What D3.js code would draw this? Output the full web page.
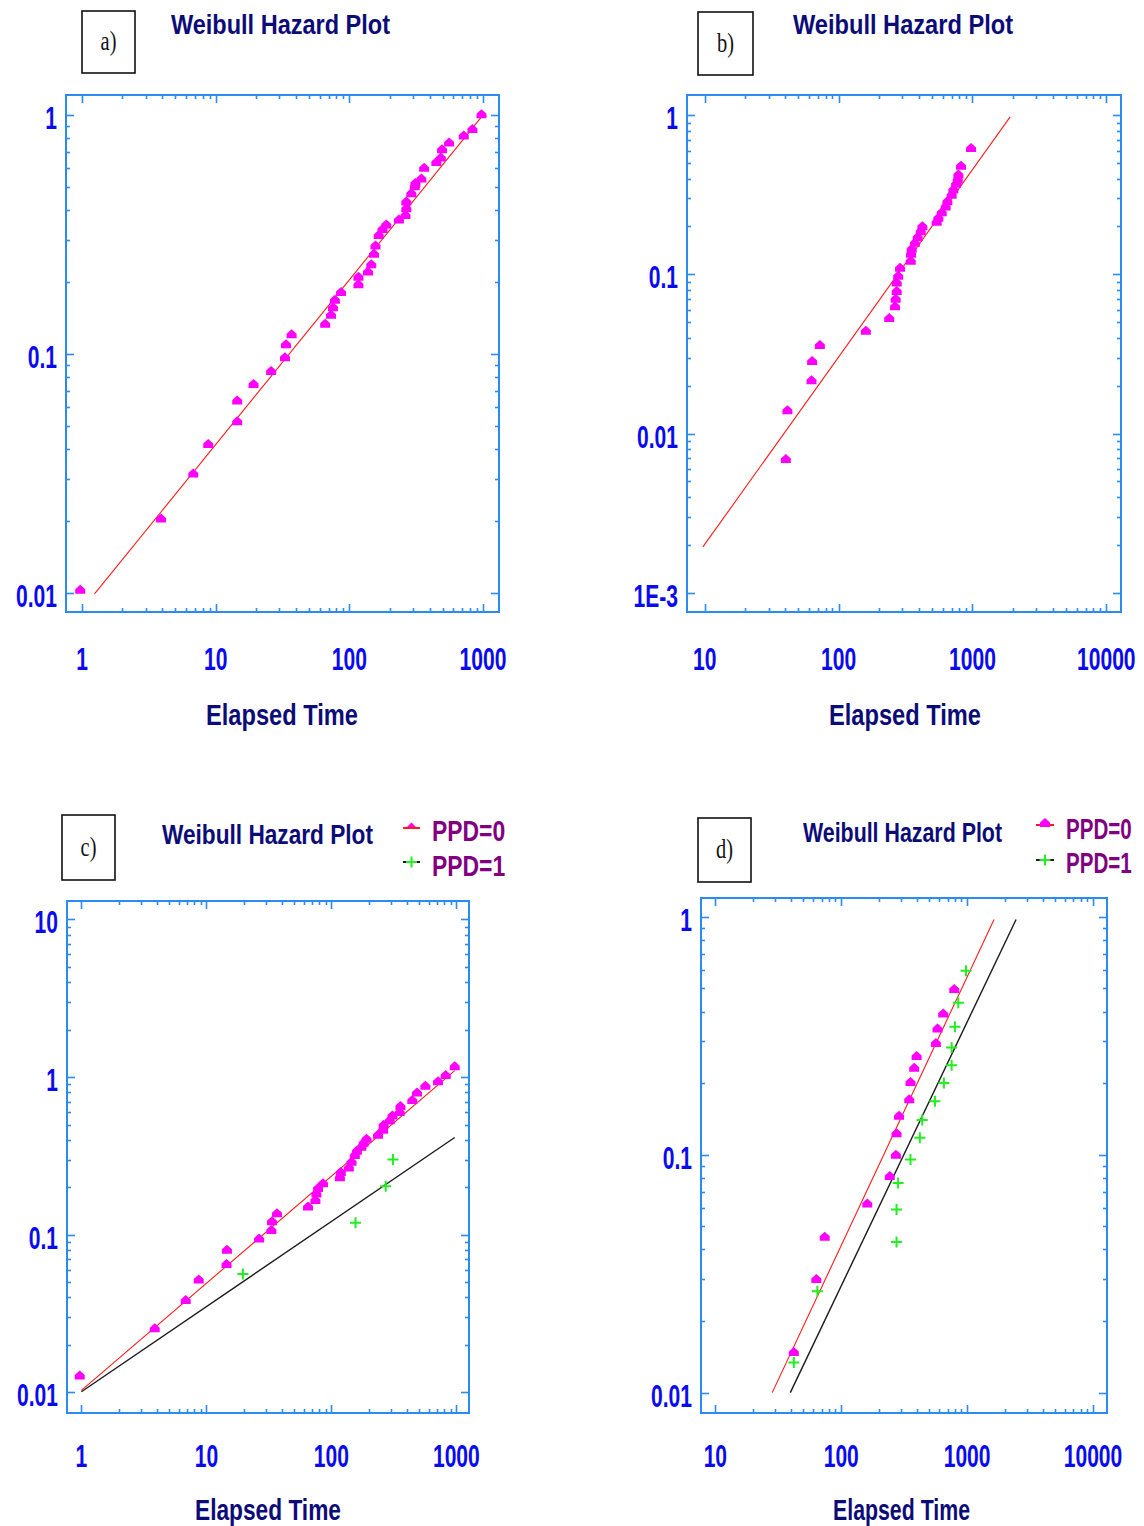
<!DOCTYPE html>
<html><head><meta charset="utf-8">
<script src="https://cdn.jsdelivr.net/npm/d3@7"></script>
<style>html,body{margin:0;padding:0;background:#fff;}</style>
</head><body>
<svg id="chart" width="1144" height="1526"></svg>
<script>
// ---------------- DATA ----------------
// Panel a
const aTime   = [0.97,3.9,6.8,8.8,14.5,14.5,19.2,26,33,33.6,37,66,73,75.5,78,86.7,117,117,138,146,153,157,166,177,189,235,263,267,267,291,309,312,346,363,448,484,494,558,718,834,975];
const aHazard = [0.0103,0.0205,0.0316,0.042,0.0524,0.064,0.075,0.085,0.097,0.11,0.121,0.134,0.146,0.157,0.169,0.182,0.196,0.211,0.222,0.238,0.263,0.285,0.315,0.334,0.349,0.366,0.382,0.408,0.436,0.472,0.504,0.521,0.543,0.603,0.638,0.665,0.721,0.77,0.822,0.877,1.01];
const aFitTime = [1.24, 975];
const aFitHazard = [0.0099, 0.984];

// Panel b
const bTime   = [40.4,41.5,62.8,63.5,72.5,160,239,264,267,272,272,279,288,346,348,352,372,390,411,423,541,557,590,631,650,700,721,755,777,786,822,977];
const bHazard = [0.00693,0.014,0.0216,0.0286,0.036,0.0442,0.0532,0.063,0.0703,0.0787,0.089,0.098,0.11,0.122,0.135,0.145,0.158,0.172,0.187,0.201,0.214,0.227,0.246,0.267,0.288,0.317,0.341,0.371,0.395,0.425,0.481,0.622];
const bFitTime = [9.7, 1914];
const bFitHazard = [0.00194, 0.976];

// Panel c
const cTime0   = [0.97,3.86,6.83,8.68,14.5,14.6,26.4,33.1,33.5,36.7,65,74.5,75.9,78.2,85.7,117,119,138,145,154,160,174,181,191,236,259,262,293,308,352,357,444,484,565,713,822,970];
const cHazard0 = [0.0128,0.0255,0.0386,0.052,0.0653,0.0803,0.0946,0.107,0.122,0.137,0.151,0.166,0.183,0.198,0.212,0.232,0.25,0.267,0.29,0.32,0.341,0.362,0.384,0.406,0.431,0.464,0.499,0.532,0.57,0.6,0.655,0.716,0.798,0.881,0.94,1.03,1.17];
const cTime1   = [19.6,156,272,311];
const cHazard1 = [0.0563,0.119,0.203,0.3];
const cFit0Time = [1, 970],  cFit0Hazard = [0.0103, 1.1];
const cFit1Time = [1, 970],  cFit1Hazard = [0.0101, 0.414];

// Panel d
const dTime0   = [42,63.4,73.9,161,243,272,275,288,347,355,380,397,565,582,646,790];
const dHazard0 = [0.0148,0.03,0.0452,0.0624,0.0813,0.1,0.123,0.146,0.171,0.202,0.232,0.26,0.295,0.339,0.392,0.497];
const dTime1   = [42,64.6,275,275,283,355,421,440,555,654,753,753,800,851,980];
const dHazard1 = [0.0134,0.0267,0.043,0.0588,0.0761,0.0955,0.118,0.14,0.168,0.2,0.238,0.282,0.345,0.435,0.593];
const dFit0Time = [28.3, 1637], dFit0Hazard = [0.01, 0.975];
const dFit1Time = [39.4, 2449], dFit1Hazard = [0.01, 0.975];

// Tick labels
const xTicksA = ["1","10","100","1000"];
const xTicksB = ["10","100","1000","10000"];
const xTicksC = ["1","10","100","1000"];
const xTicksD = ["10","100","1000","10000"];
const yTicksA = ["0.01","0.1","1"];
const yTicksB = ["1E-3","0.01","0.1","1"];
const yTicksC = ["0.01","0.1","1","10"];
const yTicksD = ["0.01","0.1","1"];
const yTickValuesA = [0.01,0.1,1];
const yTickValuesB = [0.001,0.01,0.1,1];
const yTickValuesC = [0.01,0.1,1,10];
const yTickValuesD = [0.01,0.1,1];
const xTickValuesA = [1,10,100,1000];
const xTickValuesB = [10,100,1000,10000];

const titleText = "Weibull Hazard Plot";
const xAxisTitle = "Elapsed Time";
const legendLabels = ["PPD=0","PPD=1"];
const panelLetters = ["a)","b)","c)","d)"];

// ---------------- STYLE / LAYOUT ----------------
const AXIS = "#2a8cf2", TICKLAB = "#0a0af0", NAVY = "#0c0c78", PURPLE = "#800080";
const MAG = "#ff00ff", GREEN = "#22ee22", RED = "#ff1a1a", BLACK = "#1a1a1a";
const svg = d3.select("#chart");

const panels = [
  {box:[66,95,499,612], xd:[0.759,1318], yd:[0.00832,1.216], xt:xTickValuesA, xl:xTicksA, yt:yTickValuesA, yl:yTicksA,
   xLabY:670, title:[171,34,219], xtitle:[206,725,152], lbox:[82,11,53,62], letter:panelLetters[0],
   series:[{t:aTime,h:aHazard,m:"tri"}], fits:[{t:aFitTime,h:aFitHazard,c:RED,w:1.1}]},
  {box:[687,95,1121,612], xd:[7.38,12880], yd:[0.000757,1.34], xt:xTickValuesB, xl:xTicksB, yt:yTickValuesB, yl:yTicksB,
   xLabY:670, title:[793,34,220], xtitle:[829,725,152], lbox:[698,12,55,63], letter:panelLetters[1],
   series:[{t:bTime,h:bHazard,m:"tri"}], fits:[{t:bFitTime,h:bFitHazard,c:RED,w:1.1}]},
  {box:[67,901,469,1413], xd:[0.767,1262], yd:[0.0074,13.1], xt:xTickValuesA, xl:xTicksC, yt:yTickValuesC, yl:yTicksC,
   xLabY:1467, title:[162,844,211], xtitle:[195,1520,146], lbox:[62,815,53,65], letter:panelLetters[2],
   legend:{lx:[403,420], tx:432, ty:[841,876], sx:0.79, my:[826,862]},
   series:[{t:cTime0,h:cHazard0,m:"tri"},{t:cTime1,h:cHazard1,m:"plus"}],
   fits:[{t:cFit1Time,h:cFit1Hazard,c:BLACK,w:1.4},{t:cFit0Time,h:cFit0Hazard,c:RED,w:1.1}]},
  {box:[701,898,1107,1413], xd:[7.69,12920], yd:[0.00821,1.2], xt:xTickValuesB, xl:xTicksD, yt:yTickValuesD, yl:yTicksD,
   xLabY:1467, title:[803,842,199], xtitle:[833,1520,137], lbox:[698,818,53,64], letter:panelLetters[3],
   legend:{lx:[1036,1054], tx:1066, ty:[839,873], sx:0.71, my:[823,860], house:true},
   series:[{t:dTime0,h:dHazard0,m:"tri"},{t:dTime1,h:dHazard1,m:"plus"}],
   fits:[{t:dFit1Time,h:dFit1Hazard,c:BLACK,w:1.4},{t:dFit0Time,h:dFit0Hazard,c:RED,w:1.1}]}
];

const housePath = "M-5,4L-5,-0.5L0,-5L5,-0.5L5,4Z";

function drawMarker(g, x, y, m){
  if(m==="tri"){
    g.append("path").attr("d",housePath).attr("transform",`translate(${x},${y})`).attr("fill",MAG);
  } else {
    g.append("path").attr("d","M-5.5,0H5.5M0,-5.5V5.5").attr("transform",`translate(${x},${y})`)
      .attr("stroke",GREEN).attr("stroke-width",2).attr("fill","none");
  }
}

function condensed(g, x, y, txt, size, weight, color, sx, anchor){
  g.append("text").attr("transform",`translate(${x},${y}) scale(${sx},1)`)
    .attr("text-anchor",anchor).attr("font-family","Liberation Sans, Arial, sans-serif")
    .attr("font-size",size).attr("font-weight",weight).attr("fill",color).text(txt);
}

panels.forEach(p=>{
  const [x0,y0,x1,y1] = p.box;
  const g = svg.append("g");
  const xs = d3.scaleLog().domain(p.xd).range([x0,x1]);
  const ys = d3.scaleLog().domain(p.yd).range([y1,y0]);

  // frame
  g.append("rect").attr("x",x0).attr("y",y0).attr("width",x1-x0).attr("height",y1-y0)
    .attr("fill","none").attr("stroke",AXIS).attr("stroke-width",2);

  // ticks
  const xMaj = p.xt, yMaj = p.yt;
  const xMin = xs.ticks().filter(v=>v>=xMaj[0] && v<=xMaj[xMaj.length-1] && !xMaj.includes(v));
  const yMin = ys.ticks().filter(v=>v>=yMaj[0]*0.999 && v<=yMaj[yMaj.length-1]*1.001 && !yMaj.some(m=>Math.abs(m-v)/m<1e-6));
  const tk = g.append("g").attr("stroke",AXIS).attr("stroke-width",1.6);
  [[xMaj,8],[xMin,4]].forEach(([arr,len])=>arr.forEach(v=>{
    const X = Math.round(xs(v))+0.5;
    tk.append("line").attr("x1",X).attr("x2",X).attr("y1",y1).attr("y2",y1-len);
    tk.append("line").attr("x1",X).attr("x2",X).attr("y1",y0).attr("y2",y0+len);
  }));
  [[yMaj,8],[yMin,4]].forEach(([arr,len])=>arr.forEach(v=>{
    const Y = Math.round(ys(v))+0.5;
    tk.append("line").attr("y1",Y).attr("y2",Y).attr("x1",x0).attr("x2",x0+len);
    tk.append("line").attr("y1",Y).attr("y2",Y).attr("x1",x1).attr("x2",x1-len);
  }));

  // tick labels
  xMaj.forEach((v,i)=>condensed(g, xs(v), p.xLabY, p.xl[i], 31, "bold", TICKLAB, 0.68, "middle"));
  yMaj.forEach((v,i)=>condensed(g, x0-9, ys(v)+14, p.yl[i], 31, "bold", TICKLAB, 0.68, "end"));

  // titles
  g.append("text").attr("x",p.title[0]).attr("y",p.title[1]).attr("textLength",p.title[2])
    .attr("lengthAdjust","spacingAndGlyphs").attr("font-family","Liberation Sans, Arial, sans-serif")
    .attr("font-size",27).attr("font-weight","bold").attr("fill",NAVY).text(titleText);
  g.append("text").attr("x",p.xtitle[0]).attr("y",p.xtitle[1]).attr("textLength",p.xtitle[2])
    .attr("lengthAdjust","spacingAndGlyphs").attr("font-family","Liberation Sans, Arial, sans-serif")
    .attr("font-size",30).attr("font-weight","bold").attr("fill",NAVY).text(xAxisTitle);

  // letter box
  const [bx,by,bw,bh] = p.lbox;
  g.append("rect").attr("x",bx).attr("y",by).attr("width",bw).attr("height",bh)
    .attr("fill","none").attr("stroke","#111").attr("stroke-width",1.6);
  g.append("text").attr("transform",`translate(${bx+bw/2},${by+bh/2+8}) scale(0.85,1.15)`).attr("text-anchor","middle")
    .attr("font-family","Liberation Serif, Times New Roman, serif").attr("font-size",24)
    .attr("fill","#111").text(p.letter);

  // fit lines
  const line = d3.line().x(d=>xs(d[0])).y(d=>ys(d[1]));
  p.fits.forEach(f=>{
    g.append("path").attr("d",line(f.t.map((t,i)=>[t,f.h[i]]))).attr("fill","none")
      .attr("stroke",f.c).attr("stroke-width",f.w);
  });

  // points
  p.series.forEach(s=>{
    s.t.forEach((t,i)=>drawMarker(g, xs(t), ys(s.h[i]), s.m));
  });

  // legend
  if(p.legend){
    const L = p.legend;
    g.append("line").attr("x1",L.lx[0]).attr("x2",L.lx[1]).attr("y1",L.my[0]+2).attr("y2",L.my[0]+2)
      .attr("stroke",RED).attr("stroke-width",2);
    if(L.house) drawMarker(g,(L.lx[0]+L.lx[1])/2,L.my[0],"tri");
    else g.append("path").attr("d","M-4.5,0L0,-4.5L4.5,0Z")
      .attr("transform",`translate(${(L.lx[0]+L.lx[1])/2},${L.my[0]+1})`).attr("fill",MAG);
    g.append("line").attr("x1",L.lx[0]).attr("x2",L.lx[1]).attr("y1",L.my[1]).attr("y2",L.my[1])
      .attr("stroke",BLACK).attr("stroke-width",2);
    drawMarker(g,(L.lx[0]+L.lx[1])/2,L.my[1],"plus");
    legendLabels.forEach((lab,i)=>condensed(g, L.tx, L.ty[i], lab, 29, "bold", PURPLE, L.sx, "start"));
  }
});
</script>
</body></html>
